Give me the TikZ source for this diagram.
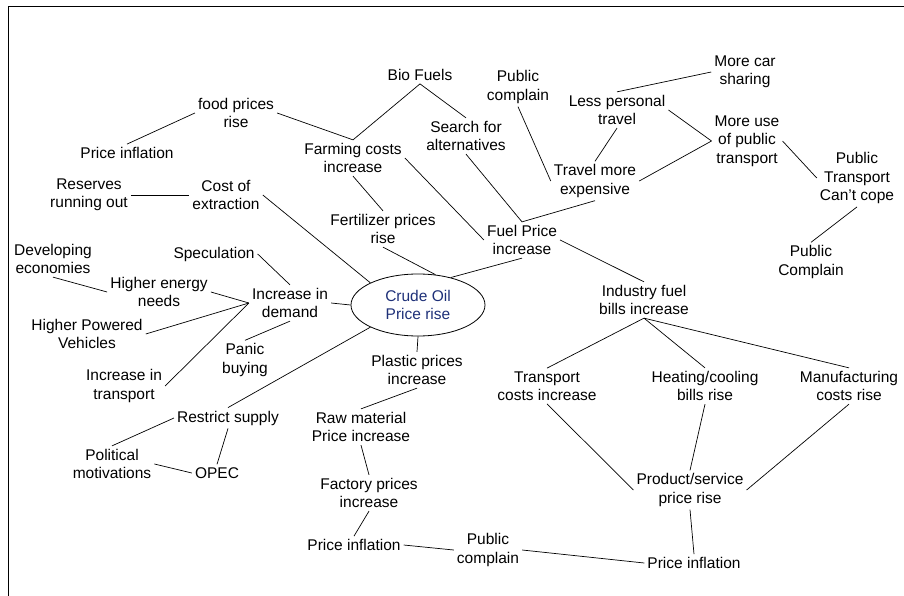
\documentclass[tikz,border=0pt]{standalone}
\usepackage{fontspec}
\setmainfont{Liberation Sans}
\definecolor{OilText}{RGB}{30,48,120}
\usetikzlibrary{shapes.geometric}

\begin{document}
\begin{tikzpicture}[x=1pt, y=-1pt,
  idea/.style={align=center, inner sep=3pt, font={\fontsize{15.5}{18.5}\selectfont}},
  link/.style={line width=0.7pt}]

\useasboundingbox (0,0) rectangle (904,596);
\draw[line width=0.8pt] (904,6) -- (8,6) -- (8,596);

% the centre
\node[idea, draw, ellipse, minimum width=134pt, minimum height=62pt, inner sep=0pt,
      line width=0.8pt, text=OilText] (oil) at (418,305) {Crude Oil\\Price rise};

% left half
\node[idea] (bio) at (420,75) {Bio Fuels};
\node[idea] (food) at (236,113) {food prices\\rise};
\node[idea] (inflA) at (127,153) {Price inflation};
\node[idea] (farm) at (353,158) {Farming costs\\increase};
\node[idea] (search) at (466,136) {Search for\\alternatives};
\node[idea] (reserve) at (89,195) {Reserves\\running out};
\node[idea] (extract) at (226,195) {Cost of\\extraction};
\node[idea] (fert) at (383,229) {Fertilizer prices\\rise};
\node[idea] (develop) at (53,259) {Developing\\economies};
\node[idea] (specul) at (214,254) {Speculation};
\node[idea] (energy) at (159,292) {Higher energy\\needs};
\node[idea] (demand) at (290,303) {Increase in\\demand};
\node[idea] (vehicle) at (87,334) {Higher Powered\\Vehicles};
\node[idea] (panic) at (245,360) {Panic\\buying};
\node[idea] (transp) at (124,386) {Increase in\\transport};
\node[idea] (plastic) at (417,370) {Plastic prices\\increase};
\node[idea] (restrict) at (228,418) {Restrict supply};
\node[idea] (raw) at (361,427) {Raw material\\Price increase};
\node[idea] (politic) at (112,464) {Political\\motivations};
\node[idea] (opec) at (217,473) {OPEC};
\node[idea] (factory) at (369,493) {Factory prices\\increase};
\node[idea] (inflB) at (354,545) {Price inflation};

% right half
\node[idea] (complA) at (518,87) {Public\\complain};
\node[idea] (carshare) at (745,72) {More car\\sharing};
\node[idea] (lesstrav) at (617,110) {Less personal\\travel};
\node[idea] (publicuse) at (747,141) {More use\\of public\\transport};
\node[idea] (expens) at (595,181) {Travel more\\expensive};
\node[idea] (cope) at (857,178) {Public\\Transport\\Can't cope};
\node[idea] (fuel) at (522,240) {Fuel Price\\increase};
\node[idea] (complB) at (811,262) {Public\\Complain};
\node[idea] (industry) at (644,300) {Industry fuel\\bills increase};
\node[idea] (tcost) at (547,386) {Transport\\costs increase};
\node[idea] (heat) at (705,386) {Heating/cooling\\bills rise};
\node[idea] (manuf) at (849,386) {Manufacturing\\costs rise};
\node[idea] (product) at (690,490) {Product/service\\price rise};
\node[idea] (complC) at (488,550) {Public\\complain};
\node[idea] (inflC) at (694,563) {Price inflation};

% links
\draw[link] (inflA.north) -- (food.west);
\draw[link] (food.east) -- (farm.north) -- (bio.south) -- (search.north);
\draw[link] (reserve.east) -- (extract.west);
\draw[link] (extract.east) -- (oil.north west);
\draw[link] (farm.south) -- (fert.north);
\draw[link] (fert.south) -- (oil.60);
\draw[link] (farm.east) -- (fuel.west);
\draw[link] (specul.east) -- (demand.north);
\draw[link] (develop.south) -- (energy.west);
\draw[link] (energy.east) -- (demand.west);
\draw[link] (vehicle.east) -- (demand.west);
\draw[link] (transp.east) -- (demand.west);
\draw[link] (demand.east) -- (oil.west);
\draw[link] (demand.south) -- (panic.north);
\draw[link] (restrict.north) -- (oil.south west);
\draw[link] (oil.south) -- (plastic.north);
\draw[link] (oil.40) -- (fuel.south);
\draw[link] (search.south) -- (fuel.north) -- (expens.south);
\draw[link] (complA.south) -- (expens.west);
\draw[link] (lesstrav.south) -- (expens.north);
\draw[link] (lesstrav.north) -- (carshare.west);
\draw[link] (lesstrav.east) -- (publicuse.west);
\draw[link] (expens.east) -- (publicuse.west);
\draw[link] (publicuse.east) -- (cope.west);
\draw[link] (cope.south) -- (complB.north);
\draw[link] (fuel.east) -- (industry.north);
\draw[link] (industry.south) -- (tcost.north);
\draw[link] (industry.south) -- (heat.north);
\draw[link] (industry.south) -- (manuf.north);
\draw[link] (tcost.south) -- (product.west);
\draw[link] (heat.south) -- (product.north);
\draw[link] (manuf.south) -- (product.east);
\draw[link] (product.south) -- (inflC.north);
\draw[link] (inflC.west) -- (complC.east);
\draw[link] (complC.west) -- (inflB.east);
\draw[link] (plastic.south) -- (raw.north);
\draw[link] (raw.south) -- (factory.north);
\draw[link] (factory.south) -- (inflB.north);
\draw[link] (restrict.west) -- (politic.north);
\draw[link] (restrict.south) -- (opec.north);
\draw[link] (politic.east) -- (opec.west);

\end{tikzpicture}
\end{document}
